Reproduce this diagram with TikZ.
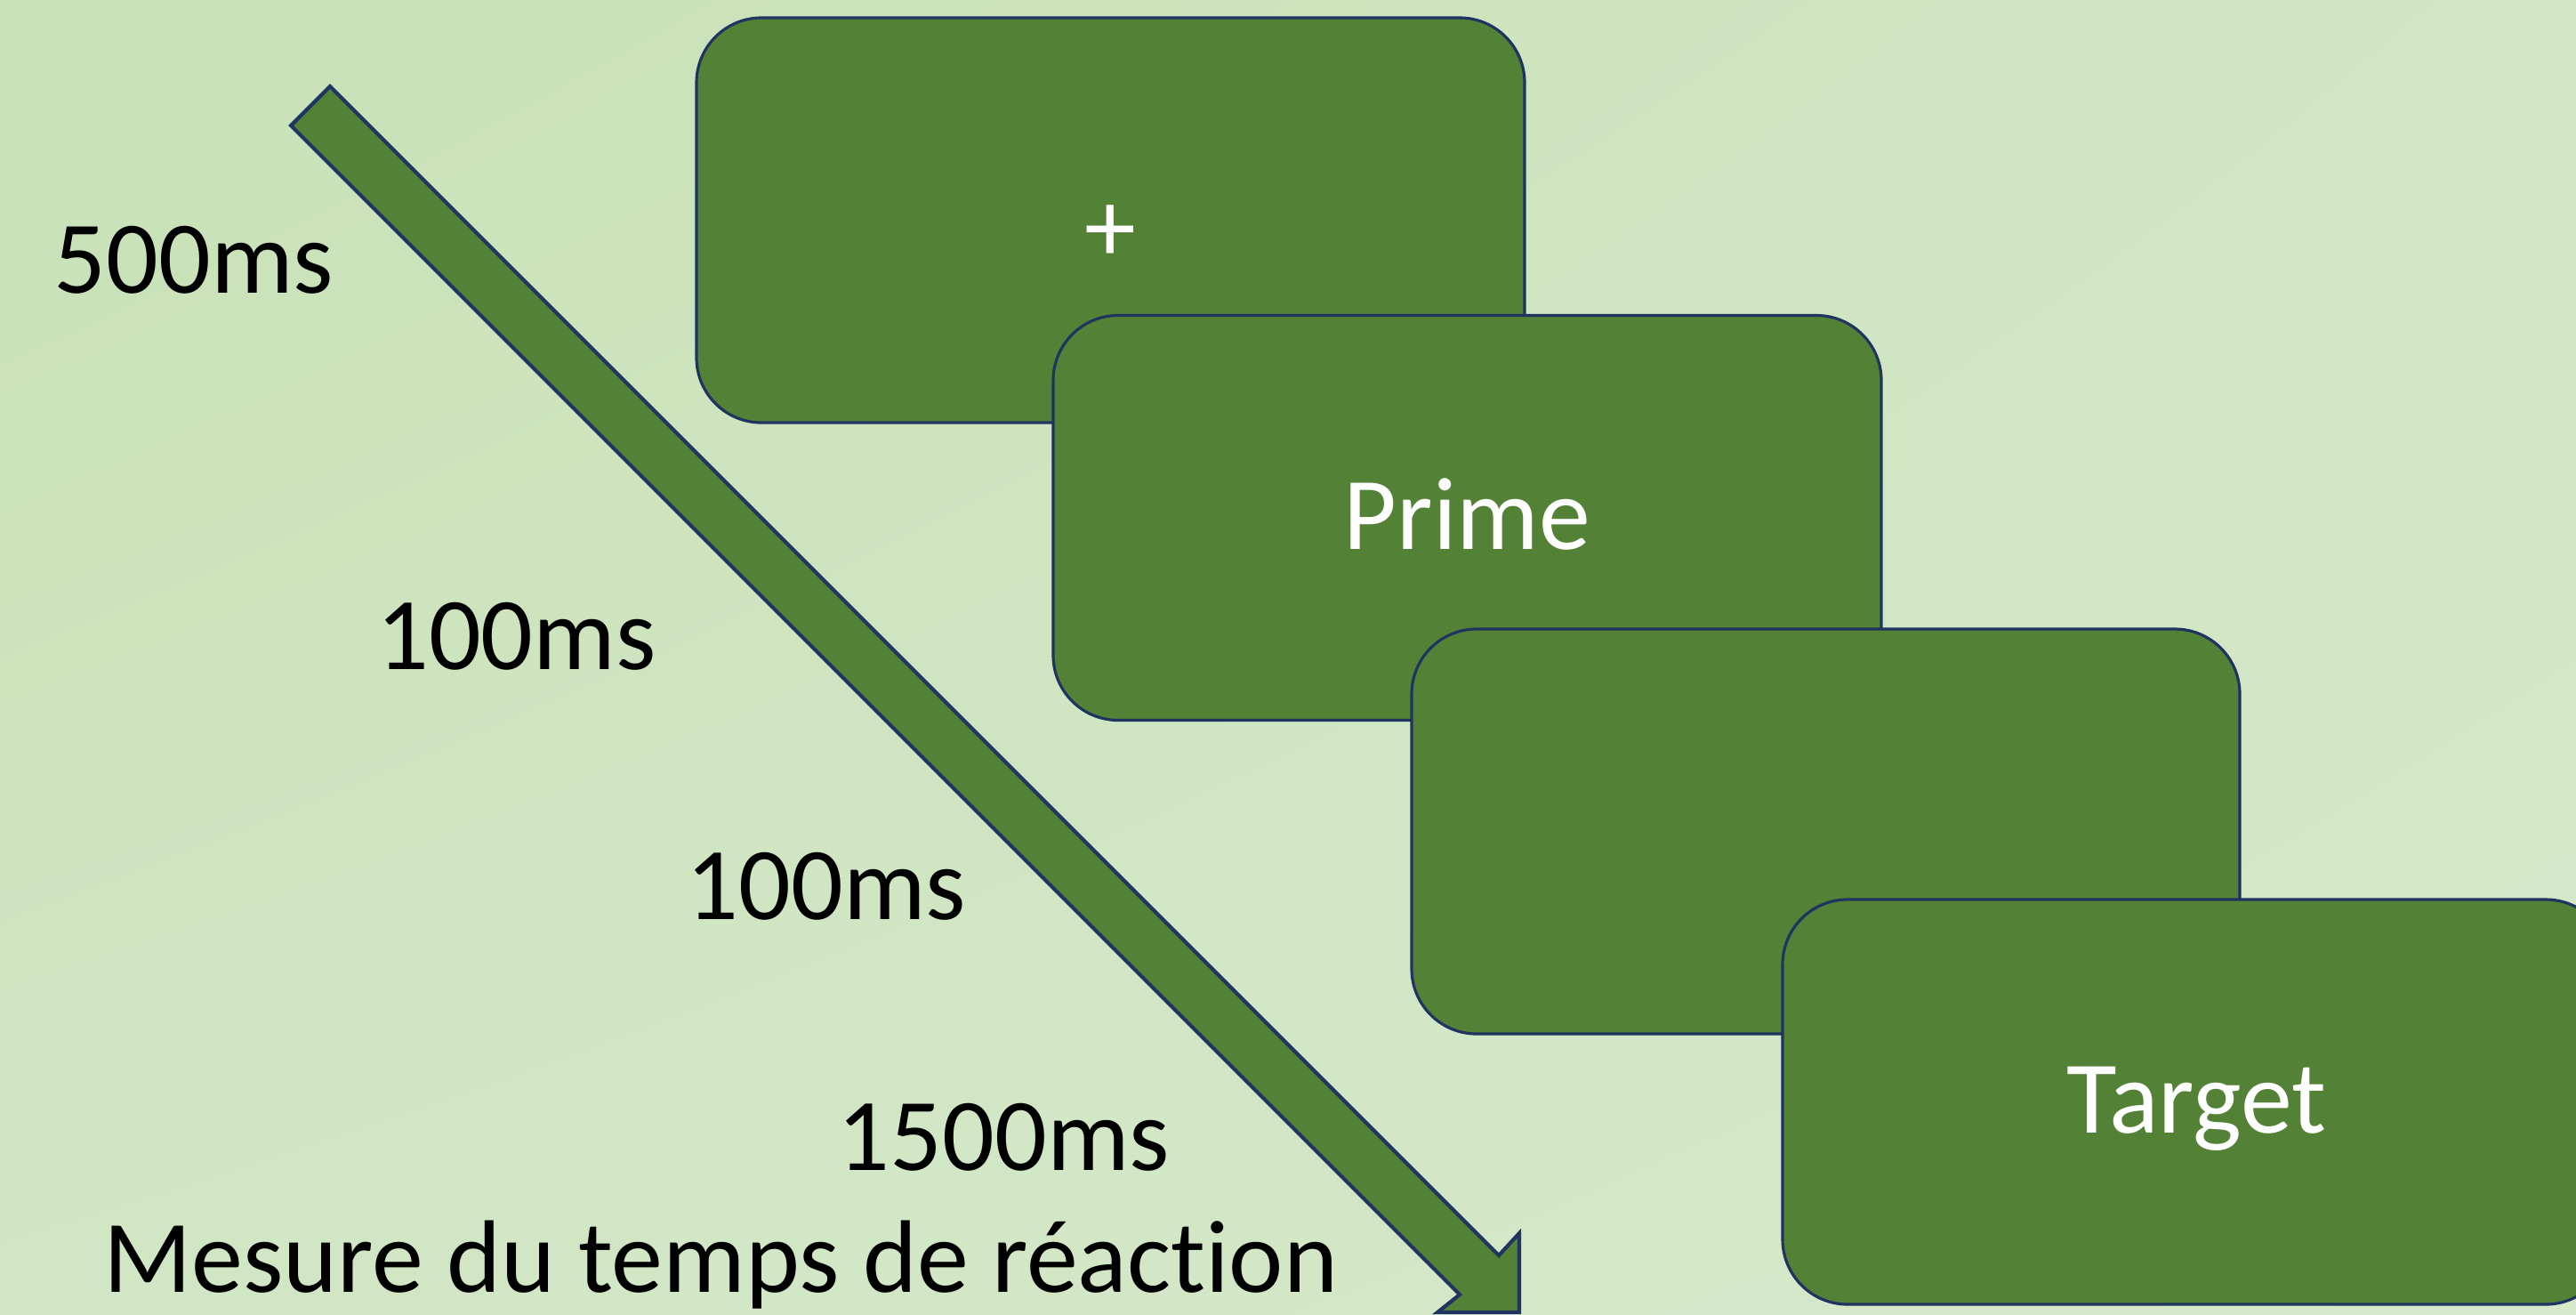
\documentclass[tikz,border=0pt]{standalone}
\usepackage{fontspec}
\setmainfont{Carlito}[Ligatures = NoCommon]
\usetikzlibrary{shadings}
\definecolor{bgdark}{HTML}{C8E1B6}
\definecolor{bgmid}{HTML}{D1E6C4}
\definecolor{bglight}{HTML}{D6E9CB}
\definecolor{slidegreen}{HTML}{538135}
\definecolor{slidenavy}{HTML}{1F3460}
\tikzset{
    screen/.style = {draw = slidenavy, line width = 0.9pt, fill = slidegreen,
        rounded corners = 0.73cm, minimum width = 9.31cm, minimum height = 4.55cm,
        inner sep = 0pt, text = white, text height = 26pt, text depth = 6pt,
        font = \fontsize{33}{40}\selectfont},
    timelabel/.style = {anchor = base, inner sep = 0pt, font = \fontsize{33}{40}\selectfont},
    timearrow/.style = {draw = slidenavy, line width = 1.2pt, fill = slidegreen, line join = miter}
}
\begin{document}
\begin{tikzpicture}
    \useasboundingbox (0,0) rectangle (28.96,-14.77);
    \shade[upper left = bgdark, upper right = bgmid, lower left = bgmid, lower right = bglight]
        (0,0) rectangle (28.96,-14.77);
    \draw[timearrow] (3.71,-0.97) -- (16.85,-14.11) -- (17.08,-13.86) -- (17.08,-14.75)
        -- (16.16,-14.75) -- (16.41,-14.55) -- (3.27,-1.41) -- cycle;
    \node[screen] (fixation) at (12.485,-2.475) {};
    \node[screen] (prime) at (16.495,-5.82) {Prime};
    \node[screen] (blank) at (20.525,-9.345) {};
    \node[screen] (target) at (24.695,-12.385) {Target};
    \node[text = white, inner sep = 0pt, font = \fontsize{33}{40}\selectfont] (plus) at (12.48,-2.63) {+};
    \node[timelabel] (t500) at (2.18,-3.29) {500ms};
    \node[timelabel] (t100a) at (5.805,-7.52) {100ms};
    \node[timelabel] (t100b) at (9.29,-10.33) {100ms};
    \node[timelabel] (t1500) at (11.285,-13.15) {1500ms};
    \node[timelabel] (mesure) at (8.10,-14.52) {Mesure du temps de réaction};
\end{tikzpicture}
\end{document}
